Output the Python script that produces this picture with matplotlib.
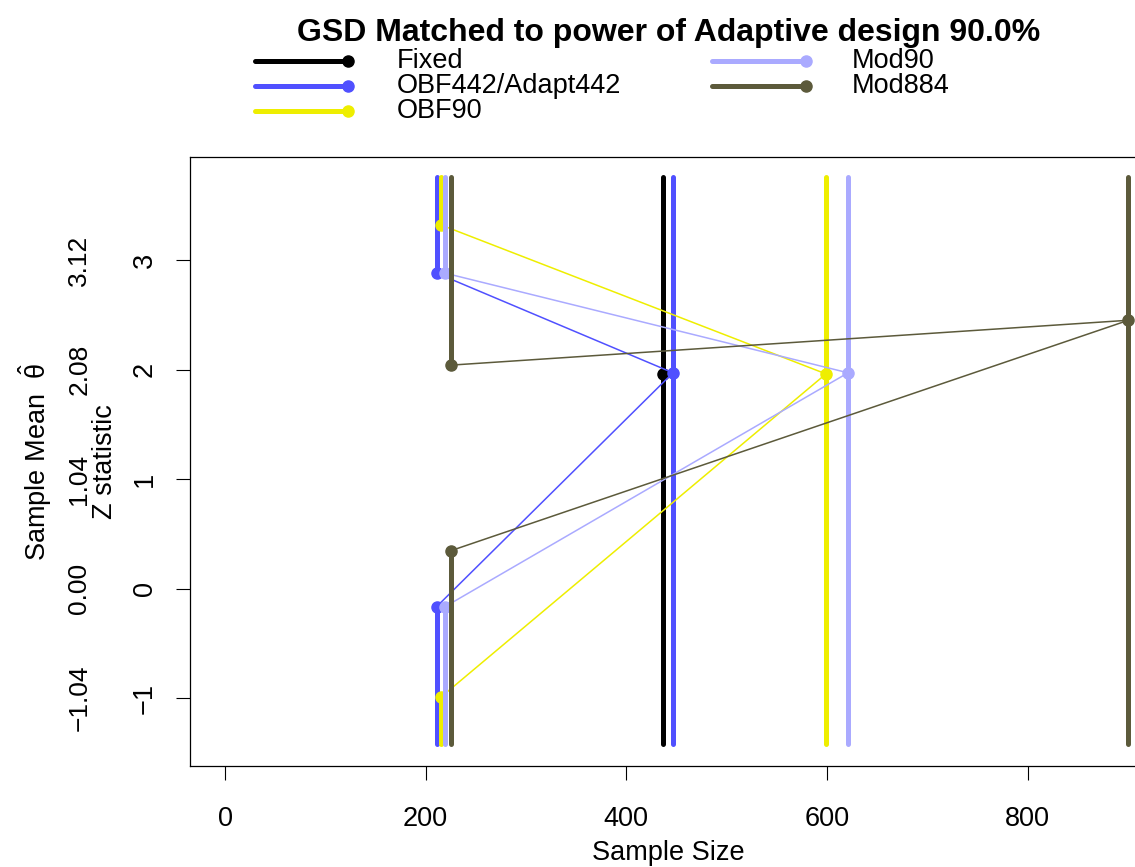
import numpy as np
import matplotlib
matplotlib.use("Agg")
import matplotlib.pyplot as plt
from matplotlib.lines import Line2D

plt.rcParams['font.family'] = ['Liberation Sans', 'DejaVu Sans']
plt.rcParams['mathtext.fontset'] = 'custom'
plt.rcParams['mathtext.rm'] = 'Liberation Sans'
plt.rcParams['mathtext.it'] = 'Liberation Sans'

# design data
designs = ["Fixed", "OBF442/Adapt442", "OBF90", "Mod90", "Mod884"]
colors = ["#000000", "#5050FF", "#EEEE00", "#AAAAFF", "#5C5A3B"]
n_stage1 = [np.nan, 211.0, 215.5, 219.5, 225.0]
n_final = [437.0, 446.5, 599.0, 621.0, 900.5]
upper1 = [np.nan, 2.88, 3.32, 2.88, 2.04]
lower1 = [np.nan, -0.165, -0.99, -0.165, 0.345]
crit_final = [1.96, 1.97, 1.96, 1.97, 2.45]

z_lo, z_hi = -1.42, 3.76
x_ticks = [0, 200, 400, 600, 800]
z_ticks = [-1, 0, 1, 2, 3]
theta_labels = ["\u22121.04", "0.00", "1.04", "2.08", "3.12"]

W, H = 1135, 867
fig = plt.figure(figsize=(W / 100, H / 100), dpi=100)


def px(x, y):
    # pixel position -> figure fraction
    return x / W, 1 - y / H


ax = fig.add_axes([190 / W, (H - 766) / H, (1146 - 190) / W, (766 - 157) / H])
ax.set_xlim(-34.9, 918)
ax.set_ylim(-1.621, 3.941)

thick = 3.6
thin = 1.1
ms = 8

for i, name in enumerate(designs):
    c = colors[i]
    if not np.isnan(n_stage1[i]):
        # stopping regions at the interim look
        ax.plot([n_stage1[i], n_stage1[i]], [z_hi, upper1[i]], color=c, lw=thick,
                solid_capstyle='round')
        ax.plot([n_stage1[i], n_stage1[i]], [lower1[i], z_lo], color=c, lw=thick,
                solid_capstyle='round')
        ax.plot([n_stage1[i], n_final[i]], [upper1[i], crit_final[i]], color=c, lw=thin)
        ax.plot([n_stage1[i], n_final[i]], [lower1[i], crit_final[i]], color=c, lw=thin)
        ax.plot([n_stage1[i], n_stage1[i]], [upper1[i], lower1[i]], 'o', color=c, ms=ms)
    # final analysis
    ax.plot([n_final[i], n_final[i]], [z_lo, z_hi], color=c, lw=thick, solid_capstyle='round')
    ax.plot([n_final[i]], [crit_final[i]], 'o', color=c, ms=ms)

ax.set_xticks(x_ticks)
ax.set_xticklabels([str(v) for v in x_ticks])
ax.set_yticks(z_ticks)
ax.set_yticklabels(["\u2212" + str(-v) if v < 0 else str(v) for v in z_ticks],
                   rotation=90, va='center')
ax.tick_params(axis='both', direction='out', length=10, width=0.8, labelsize=19.5,
               colors='black')
ax.tick_params(axis='x', pad=19)
ax.tick_params(axis='y', pad=13)
for s in ax.spines.values():
    s.set_linewidth(0.9)

sec = ax.secondary_yaxis('left')
sec.set_yticks(z_ticks)
sec.set_yticklabels(theta_labels, rotation=90, va='center')
sec.tick_params(length=0, pad=71, labelsize=19)
sec.spines['left'].set_visible(False)

fig.text(*px(105, 462), "Z statistic", rotation=90, ha='center', va='center', fontsize=19.5)
fig.text(*px(35, 462), r"Sample Mean  $\hat{\theta}$", rotation=90, ha='center',
         va='center', fontsize=19.5)
fig.text(*px(668, 853), "Sample Size", ha='center', va='center', fontsize=19.5)
fig.text(*px(669, 41), "GSD Matched to power of Adaptive design 90.0%", ha='center',
         va='baseline', fontsize=23, fontweight='bold')

# legend: two columns, line with a dot at its right end
leg_pos = [(255, 348, 397, 61), (255, 348, 397, 86), (255, 348, 397, 111),
           (712, 806, 852, 61), (712, 806, 852, 86)]
for i, name in enumerate(designs):
    x0, x1, xt, y = leg_pos[i]
    (fx0, fy), (fx1, _) = px(x0, y), px(x1, y)
    fig.add_artist(Line2D([fx0, fx1], [fy, fy], transform=fig.transFigure, color=colors[i],
                          lw=thick, solid_capstyle='round'))
    fig.add_artist(Line2D([fx1], [fy], transform=fig.transFigure, color=colors[i],
                          marker='o', ms=ms))
    fig.text(*px(xt, y), name, ha='left', va='center', fontsize=19.5)

fig.savefig("out.png", dpi=100)
